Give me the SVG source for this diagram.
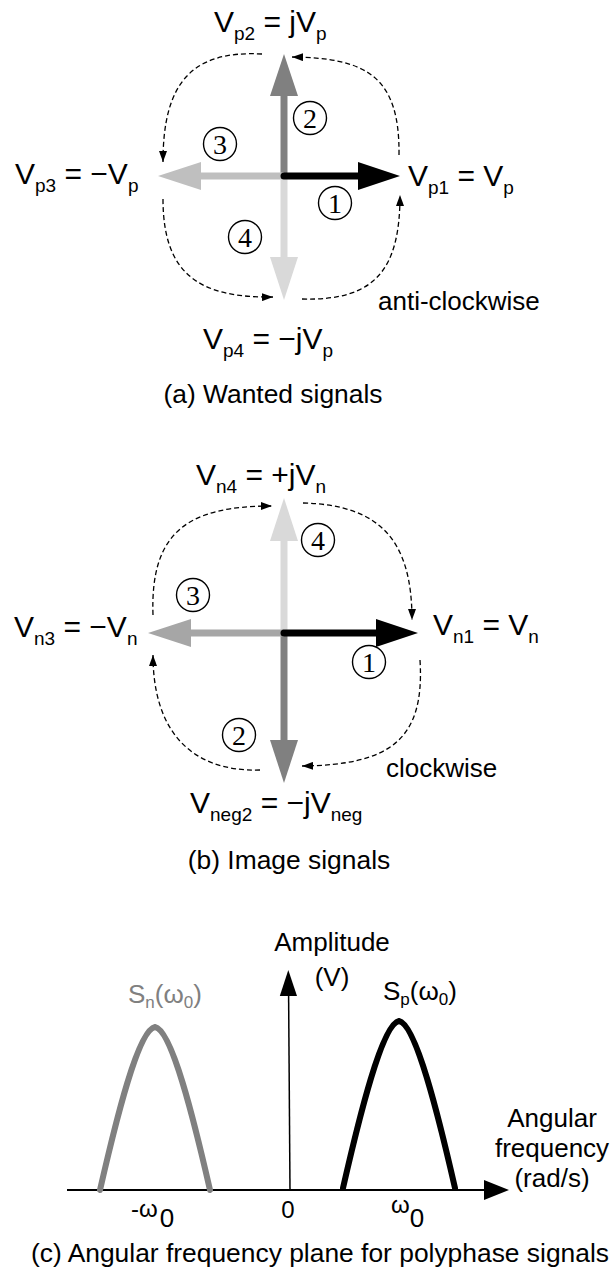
<svg xmlns="http://www.w3.org/2000/svg" width="614" height="1272" viewBox="0 0 614 1272">
<style>
.lbl{font-family:"Liberation Sans",Arial,sans-serif;font-size:26px;fill:#000}
.cap{font-family:"Liberation Sans",Arial,sans-serif;font-size:26.4px;fill:#000}
.math{font-family:"Liberation Sans",Arial,sans-serif;font-size:30px;fill:#000}
.sub{font-size:19px}
.num{font-family:"Liberation Serif","Times New Roman",serif;font-size:28px;text-anchor:middle;fill:#000}
.circ{fill:#fff;stroke:#000;stroke-width:1.4}
.dash{fill:none;stroke:#000;stroke-width:1.3;stroke-dasharray:5 3;marker-end:url(#ah)}
.shaft{stroke-width:7;fill:none}
.mid{text-anchor:middle}
</style>
<defs>
<marker id="ah" markerUnits="userSpaceOnUse" markerWidth="11" markerHeight="8" refX="11" refY="4" orient="auto">
<path d="M0,0 L11,4 L0,8 z" fill="#000"/>
</marker>
</defs>
<rect width="614" height="1272" fill="#fff"/>

<!-- Panel (a) -->
<g id="panel-a">
  <g id="a-phasor2">
    <line class="shaft" x1="284" y1="176" x2="284" y2="96" stroke="#808080"/>
    <polygon points="284,54 270,96 298,96" fill="#808080"/>
  </g>
  <g id="a-phasor4">
    <line class="shaft" x1="284" y1="176" x2="284" y2="258" stroke="#d9d9d9"/>
    <polygon points="284,300 270,257 298,257" fill="#d9d9d9"/>
  </g>
  <g id="a-phasor3">
    <line class="shaft" x1="284" y1="176" x2="200" y2="176" stroke="#bfbfbf"/>
    <polygon points="158,176 201,162 201,190" fill="#bfbfbf"/>
  </g>
  <g id="a-phasor1">
    <line class="shaft" x1="284" y1="176" x2="360" y2="176" stroke="#000" stroke-linecap="round"/>
    <polygon points="400,176 358,162 358,190" fill="#000"/>
  </g>
  <g id="a-nums">
    <circle class="circ" cx="310" cy="118" r="16.5"/><text class="num" x="310" y="127.5">2</text>
    <circle class="circ" cx="220" cy="144" r="16.5"/><text class="num" x="220" y="153.5">3</text>
    <circle class="circ" cx="335" cy="203" r="16.5"/><text class="num" x="335" y="212.5">1</text>
    <circle class="circ" cx="245" cy="237" r="16.5"/><text class="num" x="245" y="246.5">4</text>
  </g>
  <g id="a-labels">
    <text class="math" x="214" y="32">V<tspan class="sub" dy="8">p2</tspan><tspan dy="-8"> = jV</tspan><tspan class="sub" dy="8">p</tspan></text>
    <text class="math" x="15" y="184">V<tspan class="sub" dy="8">p3</tspan><tspan dy="-8"> = −V</tspan><tspan class="sub" dy="8">p</tspan></text>
    <text class="math" x="408" y="186">V<tspan class="sub" dy="8">p1</tspan><tspan dy="-8"> = V</tspan><tspan class="sub" dy="8">p</tspan></text>
    <text class="math" x="203" y="349">V<tspan class="sub" dy="8">p4</tspan><tspan dy="-8"> = −jV</tspan><tspan class="sub" dy="8">p</tspan></text>
    <text class="lbl" x="378" y="310">anti-clockwise</text>
    <text class="cap mid" x="273" y="403">(a) Wanted signals</text>
  </g>
</g>
<g id="connectors-a">
  <path class="dash" d="M262,54 C190,50 163,85 163,162"/>
  <path class="dash" d="M399,155 C400,75 365,58 292,57"/>
  <path class="dash" d="M302,299 C375,301 400,270 400,195"/>
  <path class="dash" d="M163,199 C163,275 200,298 273,297"/>
</g>

<!-- Panel (b) -->
<g id="panel-b">
  <g id="b-phasor4">
    <line class="shaft" x1="284" y1="633" x2="284" y2="540" stroke="#d9d9d9"/>
    <polygon points="284,498 270,541 298,541" fill="#d9d9d9"/>
  </g>
  <g id="b-phasor2">
    <line class="shaft" x1="284" y1="633" x2="284" y2="741" stroke="#808080"/>
    <polygon points="284,783 270,740 298,740" fill="#808080"/>
  </g>
  <g id="b-phasor3">
    <line class="shaft" x1="284" y1="633" x2="190" y2="633" stroke="#a6a6a6"/>
    <polygon points="148,633 191,619 191,647" fill="#a6a6a6"/>
  </g>
  <g id="b-phasor1">
    <line class="shaft" x1="284" y1="633" x2="378" y2="633" stroke="#000" stroke-linecap="round"/>
    <polygon points="418,633 376,619 376,647" fill="#000"/>
  </g>
  <g id="b-nums">
    <circle class="circ" cx="318" cy="540" r="16.5"/><text class="num" x="318" y="549.5">4</text>
    <circle class="circ" cx="193" cy="595" r="16.5"/><text class="num" x="193" y="604.5">3</text>
    <circle class="circ" cx="369" cy="662" r="16.5"/><text class="num" x="369" y="671.5">1</text>
    <circle class="circ" cx="239" cy="735" r="16.5"/><text class="num" x="239" y="744.5">2</text>
  </g>
  <g id="b-labels">
    <text class="math" x="196" y="485">V<tspan class="sub" dy="8">n4</tspan><tspan dy="-8"> = +jV</tspan><tspan class="sub" dy="8">n</tspan></text>
    <text class="math" x="14" y="637">V<tspan class="sub" dy="8">n3</tspan><tspan dy="-8"> = −V</tspan><tspan class="sub" dy="8">n</tspan></text>
    <text class="math" x="433" y="635">V<tspan class="sub" dy="8">n1</tspan><tspan dy="-8"> = V</tspan><tspan class="sub" dy="8">n</tspan></text>
    <text class="math" x="190" y="813">V<tspan class="sub" dy="8">neg2</tspan><tspan dy="-8"> = −jV</tspan><tspan class="sub" dy="8">neg</tspan></text>
    <text class="lbl" x="386" y="777">clockwise</text>
    <text class="cap mid" x="289" y="869">(b) Image signals</text>
  </g>
</g>
<g id="connectors-b">
  <path class="dash" d="M153,615 C150,530 190,506 272,506"/>
  <path class="dash" d="M303,503 C380,505 412,540 412,620"/>
  <path class="dash" d="M420,660 C425,740 390,765 302,766"/>
  <path class="dash" d="M260,770 C190,772 153,730 153,655"/>
</g>

<!-- Panel (c) -->
<g id="panel-c">
  <g id="c-axes">
    <line x1="67" y1="1190" x2="486" y2="1190" stroke="#000" stroke-width="2"/>
    <polygon points="509,1190 484,1180 484,1200" fill="#000"/>
    <line x1="290" y1="1190" x2="288.6" y2="994" stroke="#000" stroke-width="1.5"/>
    <polygon points="288.3,970 279.8,996 297,996" fill="#000"/>
  </g>
  <g id="c-sn">
    <path d="M100,1190 C116,1120 138,1030 155,1027 C172,1030 194,1120 210,1190" fill="none" stroke="#808080" stroke-width="6" stroke-linecap="round" stroke-linejoin="round"/>
    <text class="lbl" x="128" y="1003" style="fill:#808080">S<tspan font-size="17" dy="5">n</tspan><tspan dy="-5">(ω</tspan><tspan font-size="17" dy="5">0</tspan><tspan dy="-5">)</tspan></text>
  </g>
  <g id="c-sp">
    <path d="M343,1188 C359,1118 382,1024 399,1021 C416,1024 439,1118 455,1188" fill="none" stroke="#000" stroke-width="6" stroke-linecap="round" stroke-linejoin="round"/>
    <text class="lbl" x="383" y="1000">S<tspan font-size="17" dy="5">p</tspan><tspan dy="-5">(ω</tspan><tspan font-size="17" dy="5">0</tspan><tspan dy="-5">)</tspan></text>
  </g>
  <g id="c-labels">
    <text class="lbl mid" x="332" y="951">Amplitude</text>
    <text class="lbl mid" x="332" y="986">(V)</text>
    <text class="lbl mid" x="552" y="1127">Angular</text>
    <text class="lbl mid" x="552" y="1157">frequency</text>
    <text class="lbl mid" x="552" y="1187">(rad/s)</text>
    <text class="lbl" x="131" y="1217" style="font-size:24px">-ω<tspan dx="2" dy="10" style="font-size:26px">0</tspan></text>
    <text class="lbl mid" x="288" y="1218" style="font-size:24px">0</text>
    <text class="lbl" x="391" y="1213" style="font-size:24px">ω<tspan dy="14" style="font-size:26px">0</tspan></text>
    <text class="cap" x="31" y="1262">(c) Angular frequency plane for polyphase signals</text>
  </g>
</g>
</svg>
